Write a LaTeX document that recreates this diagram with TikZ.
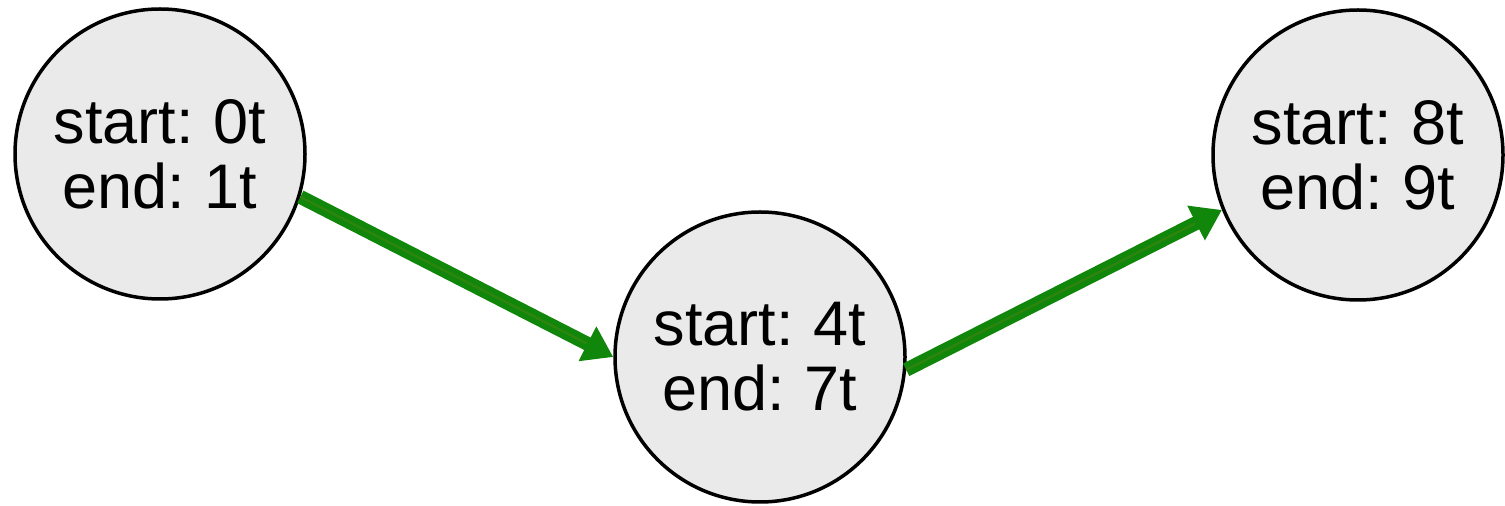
\documentclass[tikz,border=0pt]{standalone}
\usepackage{fontspec}
\setmainfont{Liberation Sans}
\usetikzlibrary{arrows.meta, positioning}

\definecolor{taskfill}{RGB}{234,234,234}
\definecolor{pathgreen}{RGB}{16,134,10}
\definecolor{pathstripe}{RGB}{45,132,14}

% big label font with a slightly narrower word space
\newcommand{\taskfont}{\fontsize{63}{65}\selectfont\spaceskip=14pt\relax}

\tikzset{
	task/.style={circle, draw=black, line width=3.5pt, fill=taskfill,
		minimum size=290pt, inner sep=0pt, align=center, font=\taskfont},
	flow/.style={draw=pathgreen, line width=14pt,
		-{Triangle[width=37pt,length=29pt]},
		postaction={draw=pathstripe, line width=2.5pt, shorten >=30pt, -}}
}

\begin{document}
\begin{tikzpicture}[x=1pt, y=1pt]
	\useasboundingbox (0,0) rectangle (1505,506);
	\node[task] (task1) at (160,352) {start: 0t\\end: 1t};
	\node[task] (task2) at (760,149) {start: 4t\\end: 7t};
	\node[task] (task3) at (1358,351) {start: 8t\\end: 9t};
	\draw[flow] (task1.-17) -- (task2.west);
	\draw[flow] (task2.-5) -- (task3.-158);
\end{tikzpicture}
\end{document}
